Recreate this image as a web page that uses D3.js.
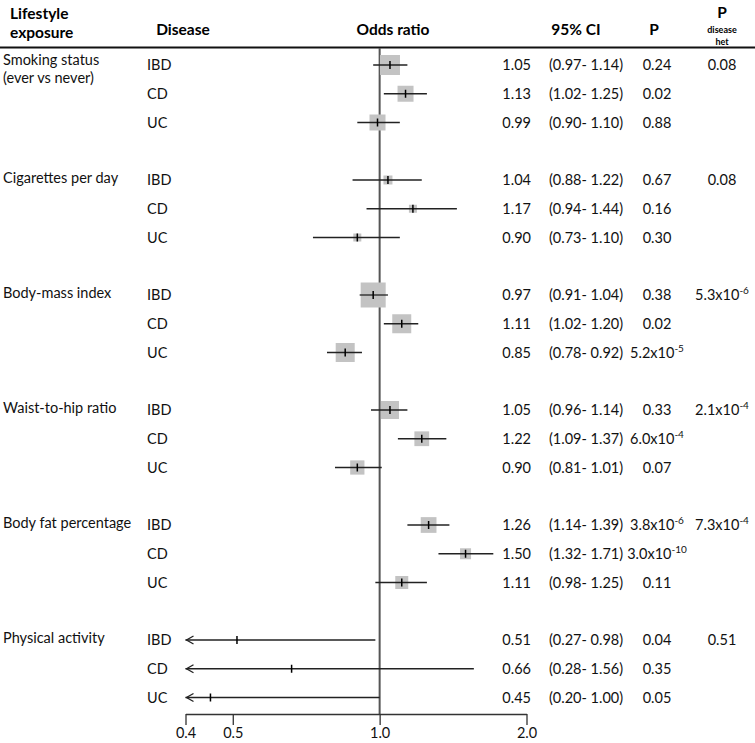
<!DOCTYPE html>
<html>
<head>
<meta charset="utf-8">
<script src="https://cdn.jsdelivr.net/npm/d3@7"></script>
<style>
  html, body { margin: 0; padding: 0; background: #fff; }
  svg { display: block; font-family: Lato, "Open Sans", sans-serif; }
</style>
</head>
<body>
<svg id="chart" width="755" height="743"></svg>
<script>
// ---------- data ----------
const exposures = [
  ["Smoking status", "(ever vs never)"],
  ["Cigarettes per day"],
  ["Body-mass index"],
  ["Waist-to-hip ratio"],
  ["Body fat percentage"],
  ["Physical activity"]
];
const diseases = ["IBD", "CD", "UC"];
const oddsRatio = [1.05, 1.13, 0.99, 1.04, 1.17, 0.90, 0.97, 1.11, 0.85, 1.05, 1.22, 0.90, 1.26, 1.50, 1.11, 0.51, 0.66, 0.45];
const ciLow     = [0.97, 1.02, 0.90, 0.88, 0.94, 0.73, 0.91, 1.02, 0.78, 0.96, 1.09, 0.81, 1.14, 1.32, 0.98, 0.27, 0.28, 0.20];
const ciHigh    = [1.14, 1.25, 1.10, 1.22, 1.44, 1.10, 1.04, 1.20, 0.92, 1.14, 1.37, 1.01, 1.39, 1.71, 1.25, 0.98, 1.56, 1.00];
const weights   = [80, 64, 64, 36, 32, 32, 100, 76, 76, 72, 59, 57, 63, 44, 52, 6, 6, 6];
const pValues   = ["0.24", "0.02", "0.88", "0.67", "0.16", "0.30", "0.38", "0.02", "5.2x10^-5",
                   "0.33", "6.0x10^-4", "0.07", "3.8x10^-6", "3.0x10^-10", "0.11", "0.04", "0.35", "0.05"];
const pHet      = ["0.08", "0.08", "5.3x10^-6", "2.1x10^-4", "7.3x10^-4", "0.51"];
const axisTicks = [0.4, 0.5, 1.0, 2.0];

// ---------- build rows ----------
const rows = [];
exposures.forEach((ex, g) => {
  diseases.forEach((d, j) => {
    const i = g * 3 + j;
    rows.push({ g, j, slot: g * 4 + j, disease: d, or: oddsRatio[i], lo: ciLow[i], hi: ciHigh[i], w: weights[i], p: pValues[i] });
  });
});

const svg = d3.select("#chart");
const x = d3.scaleLog().domain([0.4, 2.0]).range([185.5, 526.5]);
const y = d3.scaleLinear().domain([0, 1]).range([65, 93.75]);
const size = d3.scaleLinear().domain([0, 100]).range([0, 25]);
const fs = 14.5;
const FONT = "Lato, 'Open Sans', sans-serif";

// header
const hdr = svg.append("g").attr("font-weight", "bold").attr("font-size", 15.5).attr("fill", "#000");
hdr.append("text").attr("x", 10).attr("y", 19).text("Lifestyle");
hdr.append("text").attr("x", 10).attr("y", 38).text("exposure");
hdr.append("text").attr("x", 183).attr("y", 35).attr("text-anchor", "middle").text("Disease");
hdr.append("text").attr("x", 393).attr("y", 35).attr("text-anchor", "middle").text("Odds ratio");
hdr.append("text").attr("x", 576).attr("y", 35).attr("text-anchor", "middle").text("95% CI");
hdr.append("text").attr("x", 654).attr("y", 35).attr("text-anchor", "middle").text("P");
hdr.append("text").attr("x", 722).attr("y", 18).attr("text-anchor", "middle").text("P");
hdr.append("text").attr("x", 722).attr("y", 33).attr("text-anchor", "middle").attr("font-size", 9).text("disease");
hdr.append("text").attr("x", 722).attr("y", 45).attr("text-anchor", "middle").attr("font-size", 9).text("het");
svg.append("line").attr("x1", 0).attr("x2", 755).attr("y1", 47.5).attr("y2", 47.5)
  .attr("stroke", "#111").attr("stroke-width", 2);

// reference line
const axisY = 714;
svg.append("line").attr("x1", x(1)).attr("x2", x(1)).attr("y1", 48).attr("y2", axisY)
  .attr("stroke", "#555").attr("stroke-width", 2);

// exposure labels
const txt = svg.append("g").attr("font-size", fs).attr("fill", "#111");
exposures.forEach((ex, g) => {
  ex.forEach((line, k) => {
    txt.append("text").attr("x", 3).attr("y", y(g * 4) + 5 + k * 18 - (ex.length > 1 ? 5 : 2)).text(line);
  });
});

// helper for superscript text
function pText(sel, s) {
  const parts = s.split("^");
  sel.text(parts[0]);
  if (parts.length > 1) {
    sel.append("tspan").attr("dy", -6).attr("font-size", 10).text(parts[1]);
  }
}

// row texts
const rowG = txt.selectAll("g.row").data(rows).join("g").attr("class", "row")
  .attr("transform", d => `translate(0,${y(d.slot) + 5})`);
rowG.append("text").attr("x", 147).text(d => d.disease);
rowG.append("text").attr("x", 531).attr("text-anchor", "end").text(d => d.or.toFixed(2));
rowG.append("text").attr("x", 549).text(d => `(${d.lo.toFixed(2)}- ${d.hi.toFixed(2)})`);
rowG.append("text").attr("x", 657).attr("text-anchor", "middle").each(function(d) { pText(d3.select(this), d.p); });
pHet.forEach((v, g) => {
  pText(txt.append("text").attr("x", 722).attr("y", y(g * 4) + 5).attr("text-anchor", "middle"), v);
});

// marks
const marks = svg.append("g");
const mk = marks.selectAll("g.mk").data(rows).join("g").attr("class", "mk")
  .attr("transform", d => `translate(0,${y(d.slot)})`);
mk.append("rect")
  .attr("x", d => x(d.or) - size(d.w) / 2).attr("y", d => -size(d.w) / 2)
  .attr("width", d => size(d.w)).attr("height", d => size(d.w))
  .attr("fill", "#c3c3c3");
mk.append("line")
  .attr("x1", d => x(Math.max(d.lo, 0.4))).attr("x2", d => x(d.hi))
  .attr("stroke", "#222").attr("stroke-width", 1.3);
mk.append("line")
  .attr("x1", d => x(d.or)).attr("x2", d => x(d.or)).attr("y1", -4).attr("y2", 4)
  .attr("stroke", "#000").attr("stroke-width", 1.5);
mk.filter(d => d.lo < 0.4).append("path")
  .attr("d", d => { const x0 = x(0.4) + 1; return `M${x0 + 7},-4 L${x0},0 L${x0 + 7},4`; })
  .attr("fill", "none").attr("stroke", "#222").attr("stroke-width", 1.3);

// axis
const axis = d3.axisBottom(x).tickValues(axisTicks).tickFormat(d3.format(".1f")).tickSize(11).tickSizeOuter(0);
const ax = svg.append("g").attr("transform", `translate(0,${axisY})`).call(axis);
ax.select(".domain").attr("stroke", "#333").attr("stroke-width", 1.3);
ax.selectAll(".tick line").attr("stroke", "#333").attr("stroke-width", 1.3);
ax.selectAll(".tick text").attr("font-size", fs).attr("font-family", FONT).attr("fill", "#111").attr("dy", "0.71em");
</script>
</body>
</html>
